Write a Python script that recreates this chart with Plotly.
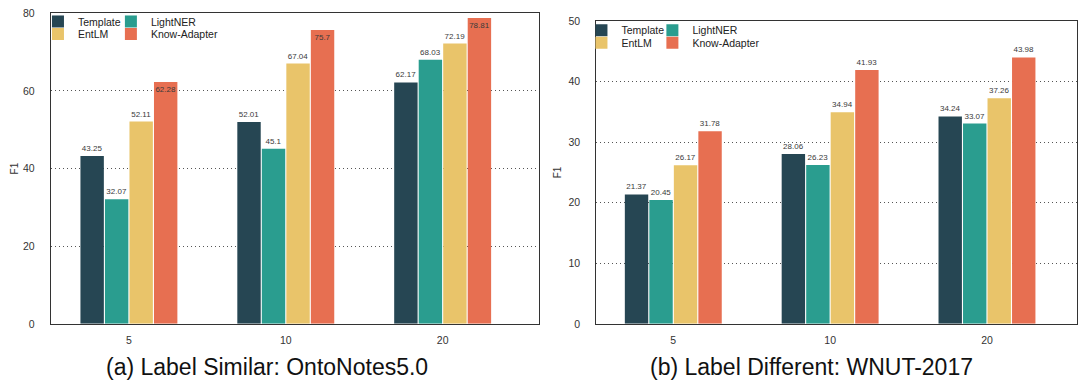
import plotly.graph_objects as go

categories = ["5", "10", "20"]
methods = ["Template", "LightNER", "EntLM", "Know-Adapter"]
colors = ["#264653", "#2a9d8f", "#e9c46a", "#e76f51"]

onto_template = [43.25, 52.01, 62.17]
onto_lightner = [32.07, 45.1, 68.03]
onto_entlm = [52.11, 67.04, 72.19]
onto_know = [62.28, 75.7, 78.81]

wnut_template = [21.37, 28.06, 34.24]
wnut_lightner = [20.45, 26.23, 33.07]
wnut_entlm = [26.17, 34.94, 37.26]
wnut_know = [31.78, 41.93, 43.98]

onto = [onto_template, onto_lightner, onto_entlm, onto_know]
wnut = [wnut_template, wnut_lightner, wnut_entlm, wnut_know]

W, H = 1078, 387
FONT = "Liberation Sans, Arial, Helvetica, sans-serif"

fig = go.Figure()

# one legend per entry so the 2x2 legend grid can be placed freely
left_leg = {"Template": "legend9", "LightNER": "legend2", "EntLM": "legend3", "Know-Adapter": "legend4"}
right_leg = {"Template": "legend5", "LightNER": "legend6", "EntLM": "legend7", "Know-Adapter": "legend8"}

for name, color, vals in zip(methods, colors, onto):
    inside = name == "Know-Adapter"
    fig.add_trace(go.Bar(
        x=categories, y=vals, name=name, marker_color=color, marker_line_width=0,
        text=[f"{v:g}" for v in vals],
        textposition="inside" if inside else "outside",
        insidetextanchor="end", textangle=0, constraintext="none",
        textfont=dict(size=8, color="#3a3a3a", family=FONT),
        cliponaxis=False, xaxis="x", yaxis="y", legend=left_leg[name],
    ))

for name, color, vals in zip(methods, colors, wnut):
    fig.add_trace(go.Bar(
        x=categories, y=vals, name=name, marker_color=color, marker_line_width=0,
        text=[f"{v:g}" for v in vals],
        textposition="outside", textangle=0, constraintext="none",
        textfont=dict(size=8, color="#3a3a3a", family=FONT),
        cliponaxis=False, xaxis="x2", yaxis="y2", legend=right_leg[name],
    ))

def px_x(p):
    return p / W

def px_y(p):
    return 1 - p / H

axis_common = dict(showline=True, mirror=True, linecolor="#333", linewidth=1.3,
                   tickfont=dict(size=10.5, color="#333", family=FONT))
grid_common = dict(showgrid=True, gridcolor="#555", gridwidth=1, griddash="1px,3px", zeroline=False)

def legend_at(xp, yp):
    return dict(x=px_x(xp), y=px_y(yp), xanchor="left", yanchor="top",
                bgcolor="rgba(0,0,0,0)", font=dict(size=10.5, color="#222"), tracegroupgap=0)

fig.update_layout(
    width=W, height=H, autosize=False,
    margin=dict(l=0, r=0, t=0, b=0),
    paper_bgcolor="white", plot_bgcolor="white",
    font=dict(family=FONT, color="#333"),
    barmode="group", bargap=0.375, bargroupgap=0.045,
    xaxis=dict(domain=[px_x(51), px_x(539)], range=[-0.497, 2.611], anchor="y",
               type="category", ticks="", showgrid=False, ticklabelstandoff=6, **axis_common),
    yaxis=dict(domain=[px_y(328), px_y(7.5)], range=[0, 80], dtick=20, anchor="x",
               ticks="", ticklabelstandoff=13,
               title=dict(text="F1", font=dict(size=10, color="#333"), standoff=2),
               **grid_common, **axis_common),
    xaxis2=dict(domain=[px_x(597), 1.0], range=[-0.49, 2.574], anchor="y2",
                type="category", ticks="", showgrid=False, ticklabelstandoff=6, **axis_common),
    yaxis2=dict(domain=[px_y(328), px_y(15.5)], range=[0, 50], dtick=10, anchor="x2",
                ticks="", ticklabelstandoff=13,
                title=dict(text="F1", font=dict(size=10, color="#333"), standoff=5),
                **grid_common, **axis_common),
    legend9=legend_at(38, 1),
    legend2=legend_at(111, 1),
    legend3=legend_at(38, 14),
    legend4=legend_at(111, 14),
    legend5=legend_at(582, 10),
    legend6=legend_at(653, 10),
    legend7=legend_at(582, 23),
    legend8=legend_at(653, 23),
    annotations=[
        dict(text="(a) Label Similar: OntoNotes5.0", x=px_x(267), y=px_y(373),
             xref="paper", yref="paper", xanchor="center", yanchor="middle",
             showarrow=False, font=dict(size=23, color="#111", family=FONT)),
        dict(text="(b) Label Different: WNUT-2017", x=px_x(812), y=px_y(373),
             xref="paper", yref="paper", xanchor="center", yanchor="middle",
             showarrow=False, font=dict(size=23, color="#111", family=FONT)),
    ],
)

fig.write_html("out.html", config={"displayModeBar": False},
               post_script="document.body.style.margin='0';document.body.style.overflow='hidden';")
